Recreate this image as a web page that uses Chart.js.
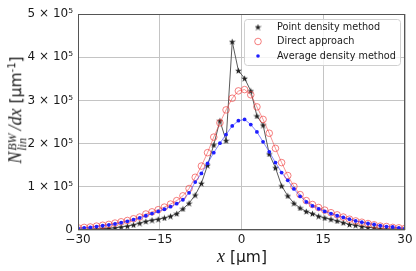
<!DOCTYPE html>
<html>
<head>
<meta charset="utf-8">
<script src="https://cdn.jsdelivr.net/npm/chart.js@4.4.0/dist/chart.umd.min.js"></script>
<style>
    html, body { margin: 0; padding: 0; background: #fff; }
    #wrap { position: relative; width: 416px; height: 271px; }
    #chart { position: absolute; left: 0; top: 0; }
    .lab { position: absolute; white-space: nowrap; color: #1a1a1a; font-family: 'DejaVu Sans'; font-size: 15.5px; }
    .lab i { font-family: 'Liberation Serif'; font-style: italic; font-size: 18px; }
    #xlab { left: 242px; top: 256px; transform: translate(-50%, -50%); }
    #ylab { left: 16px; top: 110px; transform: translate(-50%, -50%) rotate(-90deg); }
    .ss { display: inline-flex; flex-direction: column; vertical-align: middle; line-height: 10px; margin-left: 1px; margin-right: 3px; }
    .ss i { font-size: 12px; }
    .sup1 { font-size: 10px; vertical-align: 6px; }
</style>
</head>
<body>
<div id="wrap">
    <canvas id="chart" width="416" height="271"></canvas>
    <div class="lab" id="xlab"><i>x</i> [µm]</div>
    <div class="lab" id="ylab"><i>N</i><span class="ss"><i>BW</i><i>lin</i></span><i>/dx</i> [µm<span class="sup1">-1</span>]</div>
</div>
<script>
// Positions x [µm]
const xPos = [-30.00, -28.87, -27.74, -26.60, -25.47, -24.34, -23.21, -22.08, -20.94, -19.81,
    -18.68, -17.55, -16.42, -15.28, -14.15, -13.02, -11.89, -10.75, -9.62, -8.49,
    -7.36, -6.23, -5.09, -3.96, -2.83, -1.70, -0.57, 0.57, 1.70, 2.83,
    3.96, 5.09, 6.23, 7.36, 8.49, 9.62, 10.75, 11.89, 13.02, 14.15,
    15.28, 16.42, 17.55, 18.68, 19.81, 20.94, 22.08, 23.21, 24.34, 25.47,
    26.60, 27.74, 28.87, 30.00];

const pointDensity = [1000, 1000, 2000, 2000, 3000, 4000, 5000, 7000, 9000, 12000,
    16000, 20000, 23000, 25000, 28000, 32000, 38000, 49000, 62000, 81000,
    108000, 150000, 197000, 253000, 207000, 436000, 369000, 351000, 322000, 264000,
    243000, 176000, 144000, 102000, 79000, 62000, 51000, 43000, 38000, 32000,
    28000, 25000, 21000, 17000, 13000, 11000, 8000, 6000, 5000, 3000,
    2000, 2000, 2000, 2000];

const directApproach = [5000, 6000, 7000, 9000, 11000, 13000, 16000, 19000, 22000, 26000,
    30000, 37000, 42000, 47000, 53000, 60000, 68000, 79000, 96000, 122000,
    148000, 179000, 215000, 248000, 278000, 305000, 322000, 325000, 313000, 285000,
    256000, 224000, 189000, 156000, 126000, 101000, 82000, 68000, 59000, 52000,
    46000, 40000, 35000, 30000, 25000, 21000, 18000, 15000, 12000, 9000,
    8000, 6000, 5000, 4000];

const averageDensity = [4000, 5000, 6000, 8000, 10000, 12000, 14000, 17000, 20000, 24000,
    28000, 33000, 38000, 43000, 48000, 54000, 61000, 70000, 86000, 111000,
    131000, 154000, 179000, 201000, 221000, 241000, 253000, 256000, 244000, 227000,
    204000, 181000, 156000, 133000, 115000, 95000, 78000, 65000, 56000, 49000,
    43000, 38000, 33000, 29000, 25000, 21000, 18000, 15000, 13000, 10000,
    8000, 7000, 5000, 4000];

const xTicks = [-30, -15, 0, 15, 30];
const yTicks = [0, 100000, 200000, 300000, 400000, 500000];
const seriesNames = ['Point density method', 'Direct approach', 'Average density method'];

function pairs(ys) {
    return ys.map((y, i) => ({ x: xPos[i], y: y }));
}

// filled 5-point star marker
function makeStar(size, color) {
    const c = document.createElement('canvas');
    c.width = size; c.height = size;
    const g = c.getContext('2d');
    const cx = size / 2, cy = size / 2 + 0.4, ro = size / 2, ri = ro * 0.42;
    g.beginPath();
    for (let k = 0; k < 10; k++) {
        const r = k % 2 === 0 ? ro : ri;
        const a = -Math.PI / 2 + k * Math.PI / 5;
        g.lineTo(cx + r * Math.cos(a), cy + r * Math.sin(a));
    }
    g.closePath();
    g.fillStyle = color;
    g.fill();
    return c;
}
const star = makeStar(7, '#222');

const redCol = 'rgba(240,60,60,0.65)';
const blueCol = '#1f1fff';

// frame + legend drawn in the axes
const framePlugin = {
    id: 'frame',
    afterDraw(chart) {
        const ctx = chart.ctx, a = chart.chartArea;
        ctx.save();
        ctx.strokeStyle = '#555';
        ctx.lineWidth = 1;
        ctx.strokeRect(a.left + 0.5, a.top + 0.5, a.right - a.left - 1, a.bottom - a.top - 1);

        const bx = 244, by = 19, bw = 156, bh = 46;
        ctx.beginPath();
        ctx.roundRect(bx + 0.5, by + 0.5, bw, bh, 3);
        ctx.fillStyle = 'rgba(255,255,255,0.8)';
        ctx.fill();
        ctx.strokeStyle = '#d0d0d0';
        ctx.stroke();

        const rows = [27, 41.5, 56];
        const mx = 258;
        ctx.drawImage(star, mx - 3.5, rows[0] - 3.5);
        ctx.beginPath();
        ctx.arc(mx, rows[1], 3.3, 0, Math.PI * 2);
        ctx.strokeStyle = redCol;
        ctx.stroke();
        ctx.beginPath();
        ctx.arc(mx, rows[2], 1.8, 0, Math.PI * 2);
        ctx.fillStyle = blueCol;
        ctx.fill();

        ctx.fillStyle = '#1a1a1a';
        ctx.font = '9.7px "DejaVu Sans"';
        ctx.textBaseline = 'middle';
        seriesNames.forEach((n, k) => ctx.fillText(n, 277, rows[k]));
        ctx.restore();
    }
};

const ctx = document.getElementById('chart').getContext('2d');
new Chart(ctx, {
    type: 'line',
    data: {
        datasets: [{
            label: seriesNames[0],
            data: pairs(pointDensity),
            borderColor: '#5a5a5a',
            borderWidth: 1,
            pointStyle: star,
            order: 3
        }, {
            label: seriesNames[1],
            data: pairs(directApproach),
            borderColor: 'rgba(240,60,60,0.55)',
            borderWidth: 1,
            pointStyle: 'circle',
            pointRadius: 3.3,
            pointBackgroundColor: 'rgba(0,0,0,0)',
            pointBorderColor: redCol,
            pointBorderWidth: 1,
            order: 2
        }, {
            label: seriesNames[2],
            data: pairs(averageDensity),
            borderColor: 'rgba(40,40,255,0.55)',
            borderWidth: 1,
            pointRadius: 1.9,
            pointBorderWidth: 0,
            pointBackgroundColor: blueCol,
            order: 1
        }]
    },
    options: {
        responsive: false,
        animation: false,
        layout: { padding: { top: 14, right: 11, left: 0, bottom: 0 } },
        plugins: { legend: { display: false }, tooltip: { enabled: false } },
        scales: {
            x: {
                type: 'linear',
                min: xTicks[0],
                max: xTicks[xTicks.length - 1],
                afterFit(s) { s.height = 41; },
                afterBuildTicks(s) { s.ticks = xTicks.map(v => ({ value: v })); },
                grid: { color: '#c4c4c4', drawTicks: false },
                border: { display: false },
                ticks: {
                    padding: 3,
                    color: '#1a1a1a',
                    font: { family: 'DejaVu Sans', size: 12 },
                    callback: v => String(v).replace('-', '\u2212')
                }
            },
            y: {
                min: yTicks[0],
                max: yTicks[yTicks.length - 1],
                afterFit(s) { s.width = 78; },
                afterBuildTicks(s) { s.ticks = yTicks.map(v => ({ value: v })); },
                grid: { color: '#c4c4c4', drawTicks: false },
                border: { display: false },
                ticks: {
                    padding: 5,
                    color: '#1a1a1a',
                    font: { family: 'DejaVu Sans', size: 12 },
                    callback: v => v === 0 ? '0' : (v / 100000) + ' \u00d7 10\u2075'
                }
            }
        }
    },
    plugins: [framePlugin]
});
</script>
</body>
</html>
